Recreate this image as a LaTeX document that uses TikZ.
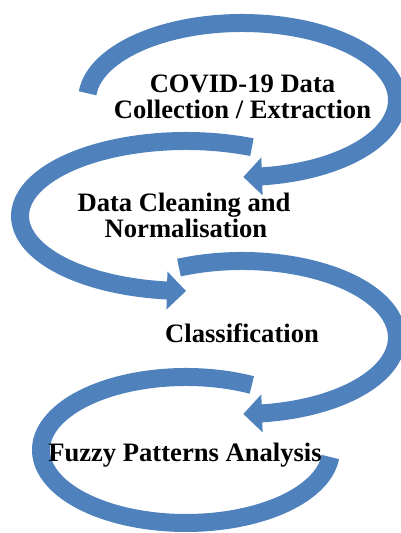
\documentclass[tikz,border=0pt]{standalone}
\usepackage{fontspec}
\setmainfont{Liberation Serif}
\usetikzlibrary{calc}
\definecolor{flow}{RGB}{79,129,189}
\tikzset{
  band/.style={draw=flow, line width=18pt, line cap=butt},
  head/.style={fill=flow},
  label/.style={font=\fontsize{26.6}{26}\selectfont\bfseries, inner sep=0pt, anchor=base},
}
\begin{document}
\begin{tikzpicture}[x=1pt,y=1pt]
\useasboundingbox (0,0) rectangle (400,533);
% centres of the four elliptical arrows
\coordinate (c1) at (242,433);
\coordinate (c2) at (186,317);
\coordinate (c3) at (242,195.5);
\coordinate (c4) at (186,83);

% arrow 1: from the left, over the top, back to the left underneath
\draw[band] ($(c1)+(175:155 and 77)$) arc[start angle=175, end angle=-84.5, x radius=155, y radius=77];
\coordinate (b1) at ($(c1)+(-82.6:155 and 77)$);
\coordinate (t1) at ($(c1)+(-89.5:155 and 77)$);
\fill[head] (t1) -- ($(b1)!19pt!90:(t1)$) -- ($(b1)!19pt!-90:(t1)$) -- cycle;

% arrow 2: round the left side, ending to the right
\draw[band] ($(c2)+(66.6:166 and 75)$) arc[start angle=66.6, end angle=265.5, x radius=166, y radius=75];
\coordinate (b2) at ($(c2)+(263.4:166 and 75)$);
\coordinate (t2) at ($(c2)+(270:166 and 75)$);
\fill[head] (t2) -- ($(b2)!19pt!90:(t2)$) -- ($(b2)!19pt!-90:(t2)$) -- cycle;

% arrow 3: round the right side, ending to the left
\draw[band] ($(c3)+(114:155 and 76.5)$) arc[start angle=114, end angle=-84.5, x radius=155, y radius=76.5];
\coordinate (b3) at ($(c3)+(-82.6:155 and 76.5)$);
\coordinate (t3) at ($(c3)+(-89.5:155 and 76.5)$);
\fill[head] (t3) -- ($(b3)!19pt!90:(t3)$) -- ($(b3)!19pt!-90:(t3)$) -- cycle;

% arrow 4: open loop without a head
\draw[band] ($(c4)+(63:145 and 73)$) arc[start angle=63, end angle=354.5, x radius=145, y radius=73];

% labels
\node[label] (s1a) at (242.5,440) {COVID-19 Data};
\node[label] (s1b) at (242.5,414) {Collection / Extraction};
\node[label] (s2a) at (184,321) {Data Cleaning and};
\node[label] (s2b) at (186,295) {Normalisation};
\node[label] (s3)  at (242,190) {Classification};
\node[label] (s4)  at (185,71)  {Fuzzy Patterns Analysis};
\end{tikzpicture}
\end{document}
